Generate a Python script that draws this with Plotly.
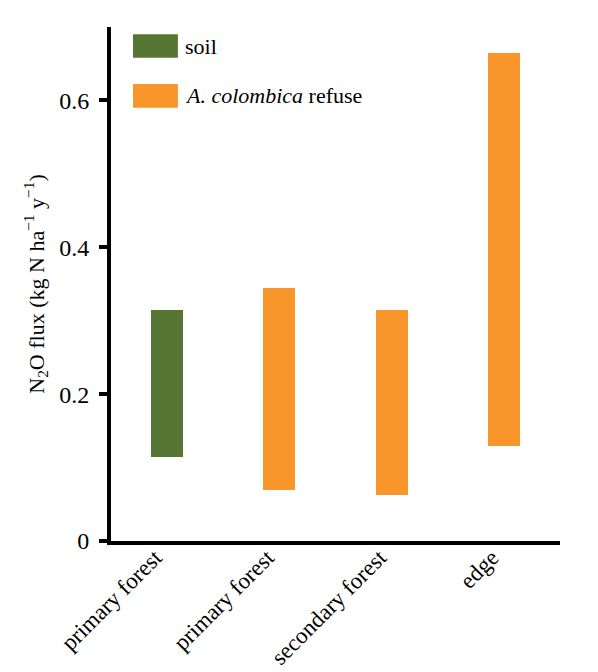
import plotly.graph_objects as go

# floating bars: range of N2O flux per site
categories = ['primary forest', 'primary forest', 'secondary forest', 'edge']
soil_pos = [0]
soil_low = [0.114]
soil_high = [0.314]
refuse_pos = [1, 2, 3]
refuse_low = [0.069, 0.062, 0.130]
refuse_high = [0.344, 0.314, 0.665]

GREEN = '#567733'
ORANGE = '#F8952B'
FONT = 'Times New Roman, Liberation Serif, serif'

fig = go.Figure()

fig.add_trace(go.Bar(
    x=soil_pos,
    y=[h - l for l, h in zip(soil_low, soil_high)],
    base=soil_low,
    name='soil',
    marker=dict(color=GREEN, line=dict(width=0)),
    width=0.285,
    showlegend=False
))

fig.add_trace(go.Bar(
    x=refuse_pos,
    y=[h - l for l, h in zip(refuse_low, refuse_high)],
    base=refuse_low,
    name='A. colombica refuse',
    marker=dict(color=ORANGE, line=dict(width=0)),
    width=0.285,
    showlegend=False
))

# hand-drawn legend with big swatches, like the original
legend_items = [('soil', GREEN), ('<i>A. colombica</i> refuse', ORANGE)]
for i, (label, color) in enumerate(legend_items):
    y_top = 0.986 - i * 0.097
    fig.add_shape(type='rect', xref='paper', yref='paper',
                  x0=0.049, x1=0.149, y0=y_top - 0.046, y1=y_top,
                  fillcolor=color, line=dict(width=0))
    fig.add_annotation(xref='paper', yref='paper', x=0.160, y=y_top - 0.023,
                       text=label, showarrow=False, xanchor='left', yanchor='middle',
                       font=dict(family=FONT, size=22, color='black'))

# page has an 8px body margin, so the figure is a bit smaller than the window
fig.update_layout(
    width=590,
    height=664,
    paper_bgcolor='white',
    plot_bgcolor='white',
    margin=dict(l=103, r=38, t=19, b=131),
    font=dict(family=FONT, size=22, color='black'),
    bargap=0,
    xaxis=dict(
        range=[-0.5, 3.5],
        tickvals=list(range(len(categories))),
        ticktext=categories,
        tickangle=-45,
        tickfont=dict(family=FONT, size=23),
        ticklabelshift=-12,
        ticklabelstandoff=-10,
        showline=True,
        linecolor='black',
        linewidth=4,
        ticks='',
        showgrid=False,
        zeroline=False,
        automargin=False
    ),
    yaxis=dict(
        range=[0, 0.7],
        tickvals=[0, 0.2, 0.4, 0.6],
        ticktext=['0', '0.2', '0.4', '0.6'],
        ticks='outside',
        ticklen=8,
        tickwidth=4,
        tickcolor='black',
        ticklabelstandoff=5,
        tickfont=dict(family=FONT, size=24),
        showline=True,
        linecolor='black',
        linewidth=4,
        showgrid=False,
        zeroline=False,
        automargin=False,
        title=dict(
            text='N<sub>2</sub>O flux (kg N ha<sup>\u22121</sup> y<sup>\u22121</sup>)',
            font=dict(family=FONT, size=22),
            standoff=10
        )
    )
)

fig.write_html("out.html")
